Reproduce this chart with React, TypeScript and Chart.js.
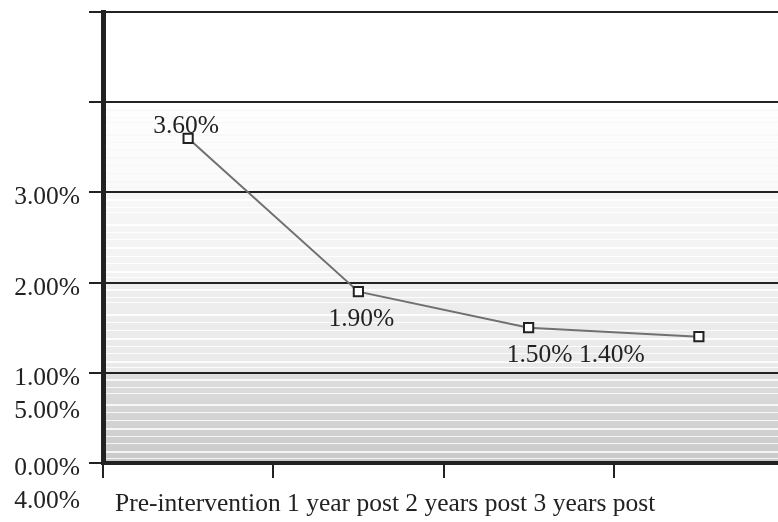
import { useEffect, useRef } from 'react';
import { Chart, registerables } from 'chart.js';

Chart.register(...registerables);

// Rate by time point relative to the intervention
const categories = ['Pre-intervention', '1 year post', '2 years post', '3 years post'];
const rates = [3.6, 1.9, 1.5, 1.4];
const yTickValues = [0, 1, 2, 3, 4, 5];

const FONT = '25.5px "Liberation Serif", "Times New Roman", serif';
const INK = '#222222';
const pct = (v: number) => v.toFixed(2) + '%';

// Shaded bands between gridlines, darkest near the baseline, with fine light streaks
const bandPlugin = {
  id: 'bands',
  beforeDraw(chart: any) {
    const { ctx, chartArea, scales } = chart;
    const y = scales.y;
    const bands = [
      { from: 4, to: 5, top: '#ffffff', bottom: '#ffffff', streak: null },
      { from: 3, to: 4, top: '#fefefe', bottom: '#fafafa', streak: 'rgba(244,244,244,0.5)' },
      { from: 2, to: 3, top: '#f7f7f7', bottom: '#f2f2f2', streak: 'rgba(255,255,255,0.9)' },
      { from: 1, to: 2, top: '#eeeeee', bottom: '#e9e9e9', streak: 'rgba(255,255,255,0.85)' },
      { from: 0, to: 1, top: '#dedede', bottom: '#c9c9c9', streak: 'rgba(255,255,255,0.8)' },
    ];
    const streaks = [0.07, 0.16, 0.22, 0.35, 0.44, 0.52, 0.61, 0.7, 0.78, 0.87, 0.94];
    ctx.save();
    ctx.fillStyle = '#ffffff';
    ctx.fillRect(0, 0, chart.width, chart.height);
    for (const b of bands) {
      const t = y.getPixelForValue(b.to);
      const btm = y.getPixelForValue(b.from);
      const g = ctx.createLinearGradient(0, t, 0, btm);
      g.addColorStop(0, b.top);
      g.addColorStop(1, b.bottom);
      ctx.fillStyle = g;
      ctx.fillRect(chartArea.left, t, chartArea.right - chartArea.left, btm - t);
      if (b.streak) {
        ctx.fillStyle = b.streak;
        streaks.forEach((f, i) => {
          const sy = Math.round(t + f * (btm - t));
          ctx.fillRect(chartArea.left, sy, chartArea.right - chartArea.left, i % 3 === 0 ? 2 : 1);
        });
      }
    }
    ctx.restore();
  },
};

// Axis and value text
const textPlugin = {
  id: 'texts',
  afterDraw(chart: any) {
    const { ctx, chartArea, scales } = chart;
    const y = scales.y;
    ctx.save();
    ctx.font = FONT;
    ctx.fillStyle = INK;
    ctx.textBaseline = 'alphabetic';

    // y-axis labels; the two upper values sit on a second line under the lower ones
    ctx.textAlign = 'right';
    for (const v of yTickValues) {
      const row = v >= 4 ? 1 : 0;
      const anchor = v - 4 * row;
      const py = y.getPixelForValue(anchor) + 12 + row * 33;
      ctx.fillText(pct(v), y.right - 23, py);
    }

    // category names run together as one line under the axis
    ctx.textAlign = 'left';
    ctx.fillText(categories.join(' '), chartArea.left + 12, chartArea.bottom + 48);

    // value labels next to each point
    const offsets = [
      [-2, -5],
      [3, 34],
      [11, 34],
      [-87, 25],
    ];
    const meta = chart.getDatasetMeta(0);
    ctx.textAlign = 'center';
    meta.data.forEach((pt: any, i: number) => {
      ctx.fillText(pct(rates[i]), pt.x + offsets[i][0], pt.y + offsets[i][1]);
    });
    ctx.restore();
  },
};

export default function App() {
  const canvasRef = useRef<HTMLCanvasElement | null>(null);

  useEffect(() => {
    const canvas = canvasRef.current;
    if (!canvas) return;
    const chart = new Chart(canvas, {
      type: 'line',
      data: {
        labels: categories,
        datasets: [
          {
            data: rates,
            borderColor: '#707070',
            borderWidth: 2,
            tension: 0,
            pointStyle: 'rect',
            pointRadius: 6.5,
            pointBorderWidth: 2,
            pointBorderColor: INK,
            pointBackgroundColor: '#ffffff',
          },
        ],
      },
      options: {
        responsive: false,
        animation: false,
        devicePixelRatio: 1,
        layout: { autoPadding: false, padding: { top: 12, left: 0, right: 0, bottom: 0 } },
        plugins: {
          legend: { display: false },
          tooltip: { enabled: false },
        },
        scales: {
          x: {
            type: 'category',
            offset: true,
            ticks: { display: false },
            grid: {
              offset: true,
              drawOnChartArea: false,
              drawTicks: true,
              tickLength: 15,
              color: INK,
              lineWidth: 2,
            },
            border: { display: true, color: INK, width: 4 },
            afterFit: (s: any) => {
              s.height = 59;
            },
          },
          y: {
            min: 0,
            max: 5,
            ticks: { display: false, stepSize: 1 },
            grid: { color: INK, lineWidth: 2, tickLength: 14, drawTicks: true },
            border: { display: true, color: INK, width: 5 },
            afterFit: (s: any) => {
              s.width = 103;
            },
          },
        },
      },
      plugins: [bandPlugin, textPlugin],
    });
    return () => chart.destroy();
  }, []);

  return (
    <div
      style={{
        position: 'fixed',
        left: 0,
        top: 0,
        width: 778,
        height: 522,
        overflow: 'hidden',
        background: '#ffffff',
      }}
    >
      <canvas ref={canvasRef} width={784} height={522} style={{ display: 'block' }} />
    </div>
  );
}
